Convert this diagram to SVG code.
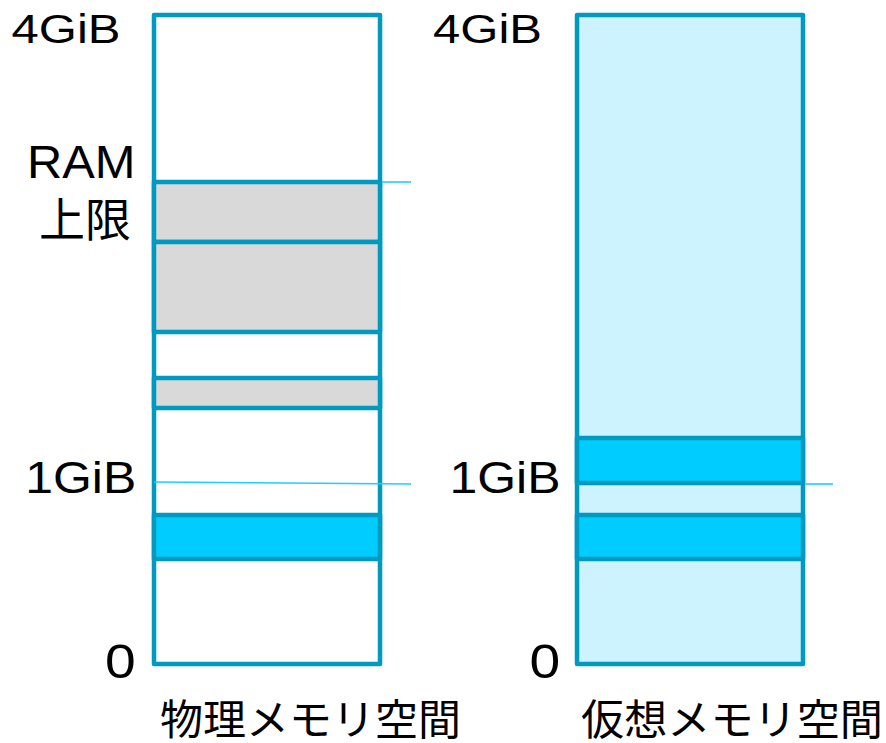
<svg xmlns="http://www.w3.org/2000/svg" width="886" height="743" viewBox="0 0 886 743">
<style>
.box{stroke:#0099c0;stroke-width:4.5;stroke-linejoin:round}
.gray{fill:#d9d9d9}
.blue{fill:#00ccff}
.tick{stroke:#22ccff;stroke-width:1.6;fill:none}
text{font-family:"Liberation Sans","Noto Sans CJK JP",Arial,sans-serif;fill:#000}
.jp{font-family:"Noto Sans CJK JP","Noto Sans CJK SC",sans-serif}
</style>
<g id="physical">
<rect class="box" x="154" y="15" width="226" height="649" fill="#ffffff"/>
<rect class="box gray" x="154" y="182" width="226" height="60"/>
<rect class="box gray" x="154" y="242" width="226" height="90"/>
<rect class="box gray" x="154" y="378" width="226" height="30"/>
<rect class="box blue" x="154" y="515" width="226" height="44"/>
</g>
<g id="virtual">
<rect class="box" x="577" y="15" width="226" height="649" fill="#ccf3ff"/>
<rect class="box blue" x="577" y="438" width="226" height="45"/>
<rect class="box blue" x="577" y="515" width="226" height="44"/>
</g>
<g id="connectors">
<line class="tick" x1="382" y1="182" x2="411" y2="182"/>
<line class="tick" x1="154" y1="482" x2="411" y2="484"/>
<line class="tick" x1="805" y1="484" x2="833" y2="484"/>
</g>
<g id="labels">
<text x="11.5" y="42.7" font-size="41" textLength="109" lengthAdjust="spacingAndGlyphs">4GiB</text>
<text x="433" y="42.7" font-size="41" textLength="109" lengthAdjust="spacingAndGlyphs">4GiB</text>
<text x="27" y="178.3" font-size="46.5" textLength="108.5" lengthAdjust="spacingAndGlyphs">RAM</text>
<text class="jp" x="39" y="236" font-size="46">上限</text>
<text x="25.2" y="492.5" font-size="45" textLength="111" lengthAdjust="spacingAndGlyphs">1GiB</text>
<text x="449.5" y="492.5" font-size="45" textLength="111" lengthAdjust="spacingAndGlyphs">1GiB</text>
<text x="105" y="677.5" font-size="48" textLength="30.7" lengthAdjust="spacingAndGlyphs">0</text>
<text x="529.5" y="677.5" font-size="48" textLength="30.7" lengthAdjust="spacingAndGlyphs">0</text>
<text class="jp" x="160" y="735" font-size="42" textLength="301" lengthAdjust="spacingAndGlyphs">物理メモリ空間</text>
<text class="jp" x="581" y="735" font-size="42" textLength="302" lengthAdjust="spacingAndGlyphs">仮想メモリ空間</text>
</g>
</svg>
